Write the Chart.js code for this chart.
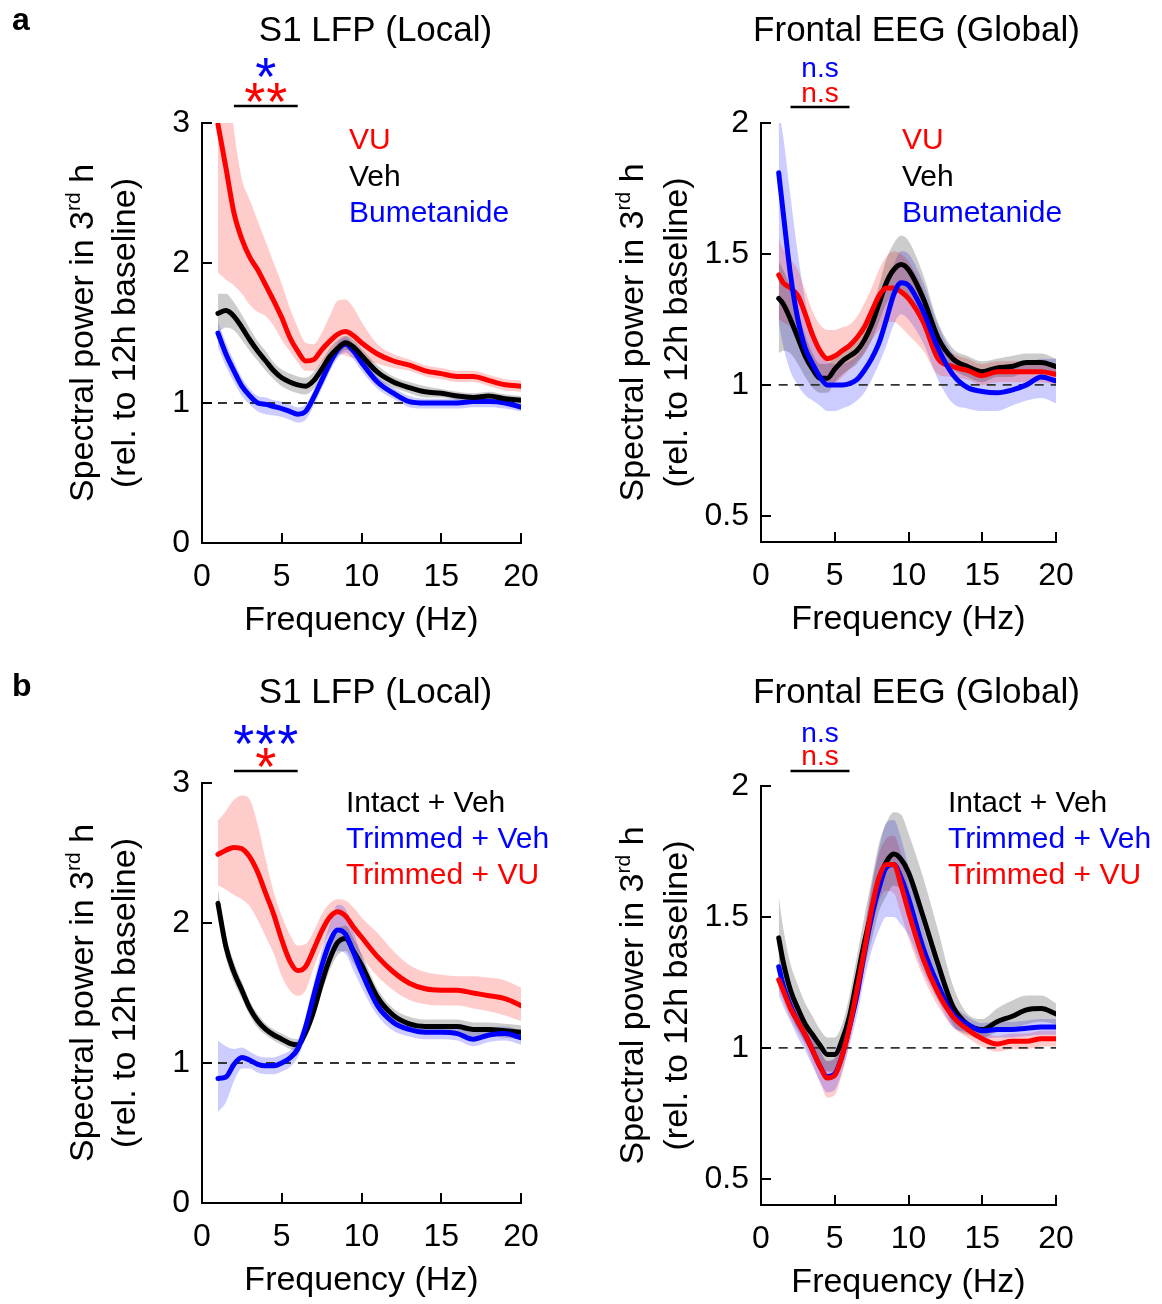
<!DOCTYPE html>
<html>
<head>
<meta charset="utf-8">
<script src="https://cdn.jsdelivr.net/npm/chart.js@4.4.1/dist/chart.umd.min.js"></script>
<style>
  html, body { margin: 0; padding: 0; background: #fff; }
  #fig { position: relative; width: 1162px; height: 1304px; overflow: hidden; }
  .cell { position: absolute; }
</style>
</head>
<body>
<div id="fig">
  <div class="cell" style="left:0;top:0;width:580px;height:656px"><canvas id="aLfp"></canvas></div>
  <div class="cell" style="left:580px;top:0;width:582px;height:656px"><canvas id="aEeg"></canvas></div>
  <div class="cell" style="left:0;top:656px;width:580px;height:648px"><canvas id="bLfp"></canvas></div>
  <div class="cell" style="left:580px;top:656px;width:582px;height:648px"><canvas id="bEeg"></canvas></div>
</div>
<script>
// ---- frequency grids (Hz) ----
const FREQ_LFP = [1,1.5,2,2.5,3,3.5,4,4.5,5,5.5,6,6.5,7,7.5,8,8.5,9,9.5,10,11,12,13,14,15,16,17,18,19,20];
const FREQ_EEG = [1.2,1.5,2,2.5,3,3.5,4,4.5,5,5.5,6,6.5,7,7.5,8,8.5,9,9.5,10,11,12,13,14,15,16,17,18,19,20];

// ---- tick labels ----
const X_TICKS = [0, 5, 10, 15, 20];
const Y_TICKS_LFP = [0, 1, 2, 3];
const Y_TICKS_EEG = [0.5, 1, 1.5, 2];
const BASELINE = 1;

// ---- (a) S1 LFP: mean and shaded error bounds ----
const A_LFP_VU     = [2.99,2.68,2.36,2.17,2.04,1.95,1.84,1.73,1.61,1.47,1.37,1.30,1.31,1.38,1.44,1.49,1.51,1.48,1.43,1.35,1.30,1.27,1.23,1.21,1.19,1.19,1.16,1.13,1.12];
const A_LFP_VU_HI  = [3.40,3.40,2.95,2.60,2.45,2.30,2.15,2.00,1.85,1.68,1.54,1.43,1.42,1.50,1.62,1.73,1.74,1.68,1.58,1.42,1.35,1.31,1.27,1.25,1.23,1.23,1.20,1.17,1.16];
const A_LFP_VU_LO  = [1.93,1.88,1.84,1.78,1.70,1.65,1.62,1.55,1.45,1.37,1.29,1.23,1.23,1.29,1.34,1.35,1.34,1.32,1.31,1.28,1.25,1.23,1.19,1.17,1.15,1.15,1.12,1.09,1.08];
const A_LFP_VEH    = [1.64,1.66,1.62,1.54,1.45,1.37,1.30,1.23,1.18,1.15,1.13,1.12,1.16,1.24,1.33,1.39,1.43,1.40,1.34,1.22,1.15,1.11,1.08,1.07,1.05,1.04,1.05,1.03,1.02];
const A_LFP_VEH_HI = [1.78,1.78,1.72,1.63,1.53,1.44,1.37,1.29,1.24,1.21,1.19,1.18,1.22,1.30,1.39,1.45,1.48,1.45,1.39,1.27,1.19,1.15,1.12,1.10,1.08,1.07,1.08,1.06,1.05];
const A_LFP_VEH_LO = [1.50,1.54,1.52,1.45,1.37,1.30,1.23,1.17,1.12,1.09,1.07,1.06,1.10,1.18,1.27,1.33,1.38,1.35,1.29,1.17,1.11,1.07,1.04,1.04,1.02,1.01,1.02,1.00,0.99];
const A_LFP_BUM    = [1.50,1.35,1.23,1.12,1.05,1.00,0.99,0.975,0.96,0.94,0.92,0.94,1.04,1.16,1.28,1.38,1.42,1.37,1.29,1.15,1.07,1.01,1.00,1.00,1.00,1.01,1.01,1.00,0.97];
const A_LFP_BUM_HI = [1.58,1.43,1.30,1.18,1.10,1.05,1.04,1.02,1.01,0.99,0.97,0.99,1.09,1.21,1.33,1.43,1.47,1.42,1.34,1.19,1.11,1.05,1.03,1.03,1.03,1.04,1.04,1.03,1.00];
const A_LFP_BUM_LO = [1.40,1.26,1.15,1.05,0.99,0.94,0.92,0.91,0.90,0.88,0.86,0.88,0.98,1.10,1.22,1.32,1.36,1.31,1.23,1.10,1.03,0.97,0.96,0.96,0.96,0.97,0.97,0.96,0.94];

// ---- (a) Frontal EEG ----
const A_EEG_VU     = [1.42,1.39,1.37,1.34,1.27,1.19,1.13,1.10,1.11,1.13,1.15,1.18,1.22,1.28,1.34,1.37,1.37,1.355,1.33,1.24,1.10,1.07,1.055,1.035,1.05,1.05,1.05,1.05,1.04];
const A_EEG_VU_HI  = [1.56,1.52,1.48,1.44,1.36,1.28,1.23,1.21,1.21,1.22,1.23,1.26,1.31,1.37,1.44,1.49,1.51,1.50,1.47,1.36,1.16,1.12,1.10,1.08,1.09,1.09,1.09,1.09,1.08];
const A_EEG_VU_LO  = [1.25,1.24,1.22,1.18,1.11,1.05,1.02,1.01,1.01,1.03,1.06,1.09,1.12,1.17,1.21,1.24,1.24,1.22,1.19,1.13,1.04,1.03,1.02,1.00,1.01,1.01,1.01,1.01,1.00];
const A_EEG_VEH    = [1.33,1.31,1.25,1.18,1.11,1.06,1.025,1.025,1.06,1.09,1.11,1.13,1.17,1.23,1.31,1.39,1.44,1.46,1.44,1.33,1.18,1.10,1.07,1.05,1.065,1.07,1.085,1.085,1.07];
const A_EEG_VEH_HI = [1.47,1.44,1.37,1.28,1.19,1.12,1.08,1.08,1.11,1.14,1.16,1.18,1.22,1.29,1.38,1.48,1.54,1.57,1.55,1.42,1.24,1.14,1.11,1.09,1.10,1.11,1.12,1.12,1.10];
const A_EEG_VEH_LO = [1.12,1.13,1.12,1.08,1.03,0.99,0.97,0.97,1.01,1.04,1.06,1.08,1.12,1.17,1.24,1.31,1.35,1.36,1.34,1.25,1.12,1.06,1.03,1.01,1.03,1.03,1.05,1.05,1.04];
const A_EEG_BUM    = [1.81,1.66,1.42,1.25,1.14,1.08,1.03,1.00,1.00,1.00,1.005,1.02,1.055,1.10,1.16,1.25,1.345,1.39,1.38,1.28,1.14,1.04,0.99,0.975,0.97,0.98,1.00,1.03,1.015];
const A_EEG_BUM_HI = [2.05,1.95,1.72,1.50,1.32,1.18,1.12,1.09,1.08,1.08,1.09,1.11,1.15,1.21,1.29,1.38,1.46,1.51,1.50,1.39,1.23,1.12,1.07,1.06,1.06,1.07,1.08,1.10,1.10];
const A_EEG_BUM_LO = [1.24,1.15,1.05,1.00,0.96,0.94,0.92,0.90,0.90,0.91,0.92,0.94,0.97,1.02,1.08,1.15,1.23,1.27,1.25,1.16,1.02,0.93,0.91,0.90,0.90,0.92,0.94,0.95,0.93];

// ---- (b) S1 LFP ----
const B_LFP_IV      = [2.14,1.83,1.65,1.52,1.39,1.30,1.24,1.20,1.17,1.14,1.13,1.22,1.37,1.57,1.74,1.86,1.89,1.80,1.70,1.47,1.34,1.28,1.26,1.26,1.26,1.24,1.24,1.23,1.22];
const B_LFP_IV_HI   = [2.24,1.91,1.72,1.58,1.44,1.35,1.28,1.24,1.21,1.18,1.17,1.27,1.43,1.64,1.82,1.95,1.98,1.89,1.78,1.53,1.39,1.33,1.31,1.31,1.31,1.29,1.29,1.28,1.27];
const B_LFP_IV_LO   = [2.04,1.75,1.58,1.46,1.34,1.25,1.20,1.16,1.13,1.10,1.09,1.17,1.31,1.50,1.66,1.77,1.80,1.71,1.62,1.41,1.29,1.23,1.21,1.21,1.21,1.19,1.19,1.18,1.17];
const B_LFP_TV      = [0.89,0.90,0.99,1.04,1.02,0.99,0.98,0.98,1.00,1.035,1.10,1.26,1.48,1.69,1.86,1.95,1.92,1.79,1.65,1.41,1.29,1.24,1.22,1.22,1.21,1.17,1.20,1.21,1.18];
const B_LFP_TV_HI   = [1.16,1.12,1.10,1.11,1.08,1.05,1.04,1.04,1.06,1.09,1.16,1.33,1.57,1.80,1.99,2.13,2.10,1.94,1.77,1.49,1.35,1.29,1.27,1.27,1.26,1.22,1.25,1.26,1.23];
const B_LFP_TV_LO   = [0.65,0.72,0.87,0.96,0.96,0.93,0.92,0.92,0.94,0.97,1.04,1.19,1.40,1.58,1.73,1.80,1.78,1.66,1.54,1.34,1.23,1.19,1.17,1.17,1.16,1.12,1.15,1.16,1.13];
const B_LFP_TVU     = [2.49,2.52,2.54,2.53,2.47,2.36,2.21,2.06,1.88,1.73,1.66,1.69,1.81,1.94,2.04,2.08,2.05,1.97,1.90,1.76,1.65,1.57,1.53,1.52,1.52,1.50,1.48,1.46,1.41];
const B_LFP_TVU_HI  = [2.73,2.80,2.88,2.91,2.88,2.70,2.45,2.22,2.05,1.92,1.84,1.85,1.94,2.06,2.14,2.17,2.16,2.11,2.04,1.93,1.80,1.70,1.65,1.63,1.62,1.62,1.61,1.59,1.54];
const B_LFP_TVU_LO  = [2.27,2.24,2.20,2.17,2.12,2.02,1.90,1.78,1.62,1.52,1.48,1.52,1.68,1.82,1.93,1.97,1.94,1.85,1.76,1.62,1.52,1.45,1.42,1.41,1.41,1.39,1.37,1.34,1.30];

// ---- (b) Frontal EEG ----
const B_EEG_IV      = [1.42,1.33,1.22,1.15,1.09,1.05,1.01,0.975,0.975,1.03,1.12,1.26,1.40,1.52,1.64,1.71,1.74,1.72,1.67,1.50,1.32,1.16,1.09,1.07,1.10,1.12,1.145,1.15,1.13];
const B_EEG_IV_HI   = [1.58,1.46,1.32,1.24,1.17,1.12,1.07,1.04,1.04,1.09,1.20,1.35,1.50,1.64,1.78,1.86,1.90,1.89,1.82,1.65,1.45,1.24,1.13,1.11,1.15,1.18,1.20,1.20,1.17];
const B_EEG_IV_LO   = [1.30,1.22,1.13,1.07,1.02,0.98,0.95,0.91,0.91,0.96,1.04,1.17,1.30,1.41,1.52,1.58,1.62,1.60,1.53,1.39,1.23,1.09,1.05,1.04,1.06,1.07,1.09,1.10,1.09];
const B_EEG_TV      = [1.31,1.24,1.16,1.10,1.05,0.99,0.93,0.89,0.90,0.97,1.08,1.20,1.36,1.50,1.61,1.69,1.70,1.65,1.57,1.38,1.24,1.13,1.09,1.065,1.07,1.07,1.075,1.08,1.08];
const B_EEG_TV_HI   = [1.37,1.30,1.22,1.16,1.10,1.05,0.99,0.95,0.96,1.03,1.15,1.28,1.45,1.62,1.76,1.86,1.87,1.80,1.69,1.46,1.29,1.17,1.12,1.095,1.10,1.10,1.105,1.11,1.11];
const B_EEG_TV_LO   = [1.20,1.16,1.10,1.04,0.99,0.93,0.87,0.83,0.84,0.91,1.01,1.12,1.26,1.37,1.45,1.50,1.50,1.47,1.43,1.29,1.18,1.08,1.06,1.035,1.04,1.04,1.045,1.05,1.05];
const B_EEG_TVU     = [1.26,1.22,1.15,1.10,1.05,0.99,0.93,0.885,0.895,0.97,1.08,1.22,1.37,1.53,1.65,1.70,1.70,1.62,1.52,1.34,1.21,1.12,1.07,1.035,1.015,1.025,1.025,1.035,1.035];
const B_EEG_TVU_HI  = [1.30,1.26,1.19,1.14,1.09,1.04,0.99,0.95,0.96,1.03,1.14,1.28,1.44,1.61,1.74,1.80,1.81,1.74,1.62,1.41,1.26,1.16,1.10,1.065,1.045,1.055,1.055,1.065,1.065];
const B_EEG_TVU_LO  = [1.22,1.18,1.11,1.06,1.01,0.94,0.87,0.81,0.82,0.90,1.02,1.16,1.30,1.45,1.56,1.60,1.59,1.51,1.42,1.27,1.16,1.08,1.04,1.005,0.985,0.995,0.995,1.005,1.005];

// ---- legend and significance text ----
const LEGEND_A = ['VU', 'Veh', 'Bumetanide'];
const LEGEND_B = ['Intact + Veh', 'Trimmed + Veh', 'Trimmed + VU'];
const SIG_A_LFP = ['*', '**'];
const SIG_A_EEG = ['n.s', 'n.s'];
const SIG_B_LFP = ['***', '*'];
const SIG_B_EEG = ['n.s', 'n.s'];
const SIG_BAND = [2, 6];   // Hz range tested (delta band)

// ---- styling ----
const FONT = '"Liberation Sans", Arial, Helvetica, sans-serif';
const RED = '#ff0000', BLUE = '#0000ff', BLACK = '#000000';
const FILL = { [RED]: 'rgba(255,0,0,0.2)', [BLUE]: 'rgba(0,0,255,0.2)', [BLACK]: 'rgba(0,0,0,0.2)' };
const Y_W = 100;   // width reserved for y tick labels
const X_H = 98;    // height reserved for x tick labels + title
const TICK = 10;

const xy = (freq, vals) => freq.map((f, i) => ({ x: f, y: vals[i] }));

// Axes with inward ticks, titles, y-axis label, legend text and significance marks
const panelDecor = {
  id: 'panelDecor',
  afterDraw(chart, args, o) {
    const { ctx, chartArea: ca, scales: { x, y } } = chart;
    const top = o.rowTop, left = o.colLeft;
    const L = v => v - left, T = v => v - top;
    ctx.save();
    // axis lines
    ctx.strokeStyle = '#000';
    ctx.lineWidth = 2;
    ctx.lineCap = 'square';
    ctx.beginPath();
    ctx.moveTo(ca.left, ca.top);
    ctx.lineTo(ca.left, ca.bottom);
    ctx.lineTo(ca.right, ca.bottom);
    ctx.stroke();
    ctx.lineCap = 'butt';
    ctx.beginPath();
    x.ticks.forEach(t => {
      if (t.value === x.min) return;
      const px = Math.round(x.getPixelForValue(t.value));
      ctx.moveTo(px, ca.bottom);
      ctx.lineTo(px, ca.bottom - TICK);
    });
    y.ticks.forEach(t => {
      if (t.value === y.min) return;
      const py = Math.round(y.getPixelForValue(t.value));
      ctx.moveTo(ca.left, py);
      ctx.lineTo(ca.left + TICK, py);
    });
    ctx.stroke();

    ctx.fillStyle = '#000';
    ctx.textBaseline = 'alphabetic';

    // panel letter
    if (o.letter) {
      ctx.font = 'bold 32px ' + FONT;
      ctx.textAlign = 'left';
      ctx.fillText(o.letter.text, L(o.letter.x), T(o.letter.y) + 12);
    }

    // title
    ctx.font = '35px ' + FONT;
    ctx.textAlign = 'center';
    ctx.fillText(o.title, (ca.left + ca.right) / 2 + o.titleShift, T(o.titleY) + 12.5);

    // y-axis label, two rotated lines with superscript
    const cy = (ca.top + ca.bottom) / 2;
    ctx.save();
    ctx.translate(L(o.yTitleX[0]), cy);
    ctx.rotate(-Math.PI / 2);
    const big = '34px ' + FONT, small = '21px ' + FONT;
    const pa = 'Spectral power in 3', pb = 'rd', pc = ' h';
    ctx.font = big;
    const wa = ctx.measureText(pa).width, wc = ctx.measureText(pc).width;
    ctx.font = small;
    const wb = ctx.measureText(pb).width;
    let sx = -(wa + wb + wc) / 2;
    ctx.textAlign = 'left';
    ctx.font = big;  ctx.fillText(pa, sx, 12); sx += wa;
    ctx.font = small; ctx.fillText(pb, sx, -1); sx += wb;
    ctx.font = big;  ctx.fillText(pc, sx, 12);
    ctx.restore();
    ctx.save();
    ctx.translate(L(o.yTitleX[1]), cy);
    ctx.rotate(-Math.PI / 2);
    ctx.font = big;
    ctx.textAlign = 'center';
    ctx.fillText('(rel. to 12h baseline)', 0, 12);
    ctx.restore();

    // legend text
    ctx.font = '30px ' + FONT;
    ctx.textAlign = 'left';
    o.legend.labels.forEach((lab, i) => {
      ctx.fillStyle = o.legend.colors[i];
      ctx.fillText(lab, L(o.legend.x), T(o.legend.y[i]) + 11);
    });

    // significance bar over the tested band
    const x0 = x.getPixelForValue(SIG_BAND[0]), x1 = x.getPixelForValue(SIG_BAND[1]);
    const xm = (x0 + x1) / 2;
    ctx.strokeStyle = '#000';
    ctx.lineWidth = 2.5;
    ctx.beginPath();
    ctx.moveTo(x0, T(o.sig.barY));
    ctx.lineTo(x1, T(o.sig.barY));
    ctx.stroke();
    o.sig.labels.forEach((lab, i) => {
      ctx.fillStyle = o.sig.colors[i];
      const yy = T(o.sig.y[i]);
      if (lab.startsWith('*')) {
        ctx.font = '54px ' + FONT;
        ctx.textAlign = 'center';
        const n = lab.length, gap = 22;
        for (let k = 0; k < n; k++) {
          ctx.fillText('*', xm + (k - (n - 1) / 2) * gap, yy + 25);
        }
      } else {
        ctx.font = '28px ' + FONT;
        ctx.textAlign = 'center';
        ctx.fillText(lab, xm, yy + 7);
      }
    });
    ctx.restore();
  }
};

function makePanel(id, p) {
  const canvas = document.getElementById(id);
  const W = canvas.parentNode.clientWidth, H = canvas.parentNode.clientHeight;
  const area = { left: p.area.left - p.colLeft, right: p.area.right - p.colLeft,
                 top: p.area.top - p.rowTop, bottom: p.area.bottom - p.rowTop };
  const datasets = [];
  // shaded bands (drawn underneath)
  p.series.forEach(s => {
    datasets.push({ data: xy(p.freq, s.hi), borderWidth: 0, pointRadius: 0, fill: '+1',
                    backgroundColor: FILL[s.color], cubicInterpolationMode: 'monotone', order: 100 });
    datasets.push({ data: xy(p.freq, s.lo), borderWidth: 0, pointRadius: 0, fill: false,
                    backgroundColor: FILL[s.color], cubicInterpolationMode: 'monotone', order: 100 });
  });
  // dashed reference at baseline level
  datasets.push({ data: [{ x: p.freq[0], y: BASELINE }, { x: 20, y: BASELINE }],
                  borderColor: '#333', borderWidth: 1.8, borderDash: [9, 7], pointRadius: 0,
                  fill: false, order: 50 });
  // mean lines, later in list drawn on top
  p.series.forEach((s, i) => {
    datasets.push({ data: xy(p.freq, s.mean), borderColor: s.color, borderWidth: 5,
                    pointRadius: 0, fill: false, cubicInterpolationMode: 'monotone',
                    borderCapStyle: 'round', borderJoinStyle: 'round', order: 10 - i });
  });

  return new Chart(canvas, {
    type: 'line',
    data: { datasets },
    options: {
      responsive: true,
      maintainAspectRatio: false,
      animation: false,
      events: [],
      layout: { padding: { left: area.left - Y_W, top: area.top, right: W - area.right,
                           bottom: H - area.bottom - X_H } },
      plugins: {
        legend: { display: false },
        tooltip: { enabled: false },
        panelDecor: {
          rowTop: p.rowTop, colLeft: p.colLeft, letter: p.letter,
          title: p.title, titleY: p.titleY, titleShift: p.titleShift,
          yTitleX: p.yTitleX, legend: p.legend, sig: p.sig
        }
      },
      scales: {
        x: {
          type: 'linear', min: 0, max: 20,
          afterFit: s => { s.height = X_H; },
          afterBuildTicks: s => { s.ticks = X_TICKS.map(v => ({ value: v })); },
          grid: { display: false, drawTicks: false },
          border: { display: false },
          ticks: { padding: 15, color: '#000', font: { family: FONT, size: 32 },
                   maxRotation: 0, autoSkip: false, callback: v => String(v) },
          title: { display: true, text: 'Frequency (Hz)', color: '#000',
                   font: { family: FONT, size: 34, lineHeight: 1.2 }, padding: { top: 0, bottom: 0 } }
        },
        y: {
          type: 'linear', min: p.yMin, max: p.yMax,
          afterFit: s => { s.width = Y_W; },
          afterBuildTicks: s => { s.ticks = p.yTicks.map(v => ({ value: v })); },
          grid: { display: false, drawTicks: false },
          border: { display: false },
          ticks: { padding: 12, color: '#000', font: { family: FONT, size: 32 },
                   autoSkip: false, callback: v => String(v) }
        }
      }
    },
    plugins: [panelDecor]
  });
}

makePanel('aLfp', {
  rowTop: 0, colLeft: 0, freq: FREQ_LFP, yMin: 0, yMax: 3, yTicks: Y_TICKS_LFP,
  area: { left: 202, top: 123, right: 521, bottom: 543 },
  letter: { text: 'a', x: 12, y: 18 },
  title: 'S1 LFP (Local)', titleY: 28, titleShift: 14, yTitleX: [81, 123],
  series: [
    { color: BLUE,  mean: A_LFP_BUM, hi: A_LFP_BUM_HI, lo: A_LFP_BUM_LO },
    { color: BLACK, mean: A_LFP_VEH, hi: A_LFP_VEH_HI, lo: A_LFP_VEH_LO },
    { color: RED,   mean: A_LFP_VU,  hi: A_LFP_VU_HI,  lo: A_LFP_VU_LO }
  ],
  legend: { x: 349, y: [138, 175, 211], labels: LEGEND_A, colors: [RED, BLACK, BLUE] },
  sig: { barY: 106, y: [70, 95], labels: SIG_A_LFP, colors: [BLUE, RED] }
});

makePanel('aEeg', {
  rowTop: 0, colLeft: 580, freq: FREQ_EEG, yMin: 0.4, yMax: 2, yTicks: Y_TICKS_EEG,
  area: { left: 761, top: 123, right: 1056, bottom: 542 },
  letter: null,
  title: 'Frontal EEG (Global)', titleY: 28, titleShift: 8, yTitleX: [631, 675],
  series: [
    { color: BLACK, mean: A_EEG_VEH, hi: A_EEG_VEH_HI, lo: A_EEG_VEH_LO },
    { color: RED,   mean: A_EEG_VU,  hi: A_EEG_VU_HI,  lo: A_EEG_VU_LO },
    { color: BLUE,  mean: A_EEG_BUM, hi: A_EEG_BUM_HI, lo: A_EEG_BUM_LO }
  ],
  legend: { x: 902, y: [138, 175, 211], labels: LEGEND_A, colors: [RED, BLACK, BLUE] },
  sig: { barY: 107, y: [70, 95], labels: SIG_A_EEG, colors: [BLUE, RED] }
});

makePanel('bLfp', {
  rowTop: 656, colLeft: 0, freq: FREQ_LFP, yMin: 0, yMax: 3, yTicks: Y_TICKS_LFP,
  area: { left: 202, top: 783, right: 521, bottom: 1203 },
  letter: { text: 'b', x: 12, y: 684 },
  title: 'S1 LFP (Local)', titleY: 690, titleShift: 14, yTitleX: [81, 123],
  series: [
    { color: BLACK, mean: B_LFP_IV,  hi: B_LFP_IV_HI,  lo: B_LFP_IV_LO },
    { color: BLUE,  mean: B_LFP_TV,  hi: B_LFP_TV_HI,  lo: B_LFP_TV_LO },
    { color: RED,   mean: B_LFP_TVU, hi: B_LFP_TVU_HI, lo: B_LFP_TVU_LO }
  ],
  legend: { x: 346, y: [801, 837, 873], labels: LEGEND_B, colors: [BLACK, BLUE, RED] },
  sig: { barY: 771, y: [737, 760], labels: SIG_B_LFP, colors: [BLUE, RED] }
});

makePanel('bEeg', {
  rowTop: 656, colLeft: 580, freq: FREQ_EEG, yMin: 0.4, yMax: 2, yTicks: Y_TICKS_EEG,
  area: { left: 761, top: 786, right: 1056, bottom: 1205 },
  letter: null,
  title: 'Frontal EEG (Global)', titleY: 690, titleShift: 8, yTitleX: [631, 675],
  series: [
    { color: BLACK, mean: B_EEG_IV,  hi: B_EEG_IV_HI,  lo: B_EEG_IV_LO },
    { color: BLUE,  mean: B_EEG_TV,  hi: B_EEG_TV_HI,  lo: B_EEG_TV_LO },
    { color: RED,   mean: B_EEG_TVU, hi: B_EEG_TVU_HI, lo: B_EEG_TVU_LO }
  ],
  legend: { x: 948, y: [801, 837, 873], labels: LEGEND_B, colors: [BLACK, BLUE, RED] },
  sig: { barY: 771, y: [735, 758], labels: SIG_B_EEG, colors: [BLUE, RED] }
});
</script>
</body>
</html>
